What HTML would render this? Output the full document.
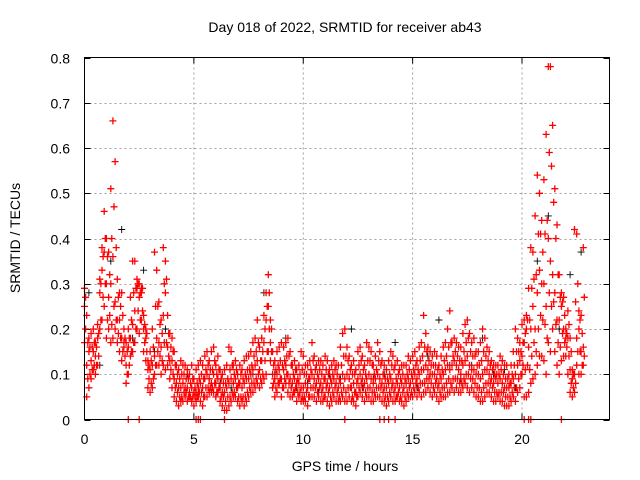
<!DOCTYPE html>
<html><head><meta charset="utf-8"><style>
html,body{margin:0;padding:0;background:#fff;}
svg{display:block;font-family:"Liberation Sans",sans-serif;}
</style></head><body>
<svg id="chart" width="640" height="480" viewBox="0 0 640 480" xmlns="http://www.w3.org/2000/svg">
<rect x="0" y="0" width="640" height="480" fill="#fff"/>
<text x="345" y="32" font-size="14" text-anchor="middle" fill="#000">Day 018 of 2022, SRMTID for receiver ab43</text>
<text transform="translate(20,238) rotate(-90)" font-size="14" text-anchor="middle" fill="#000">SRMTID / TECUs</text>
<text x="345" y="471" font-size="14" text-anchor="middle" fill="#000">GPS time / hours</text>
<g id="grid"></g>
<g id="ticks"></g>
<g id="marks"></g>
<rect x="84.5" y="57.5" width="525" height="362" fill="none" stroke="#000" stroke-width="1"/>
</svg>
<script>
const xTicks=[0,5,10,15,20];
const yTicks=[0,0.1,0.2,0.3,0.4,0.5,0.6,0.7,0.8];
const yTickLabels=["0","0.1","0.2","0.3","0.4","0.5","0.6","0.7","0.8"];
const step=0.1;
const redLow=[.17,.05,.07,.09,.11,.10,.12,.20,.22,.25,.18,.20,.17,.18,.20,.17,.15,.13,.17,.08,.10,.14,.15,.17,.20,.19,.22,.15,.13,.07,.06,.07,.10,.12,.12,.10,.12,.11,.12,.09,.07,.05,.04,.03,.04,.04,.05,.04,.05,.04,.03,.04,.05,.04,.03,.05,.05,.06,.06,.06,.05,.06,.04,.03,.02,.02,.03,.04,.05,.05,.04,.03,.04,.03,.04,.05,.06,.06,.07,.08,.07,.08,.09,.10,.15,.13,.07,.05,.06,.08,.05,.07,.08,.06,.05,.05,.06,.04,.05,.04,.04,.04,.03,.05,.05,.05,.04,.05,.04,.04,.05,.04,.03,.04,.05,.04,.04,.04,.05,.04,.04,.05,.04,.04,.03,.05,.06,.05,.04,.05,.05,.04,.04,.05,.05,.05,.04,.04,.03,.04,.05,.04,.04,.05,.04,.04,.03,.04,.05,.05,.05,.06,.05,.06,.05,.06,.06,.07,.06,.05,.06,.05,.04,.05,.05,.05,.06,.06,.07,.06,.07,.06,.06,.07,.08,.07,.06,.07,.06,.05,.05,.04,.04,.05,.06,.06,.05,.04,.04,.05,.04,.04,.03,.03,.03,.04,.05,.04,.06,.07,.10,.05,.05,.06,.08,.09,.10,.12,.14,.14,.13,.10,.17,.15,.20,.15,.12,.10,.13,.14,.14,.10,.06,.05,.06,.12,.10,.10,.12];
const redQ1=[.20,.09,.10,.11,.12,.12,.14,.22,.27,.30,.22,.23,.21,.25,.22,.19,.18,.15,.14,.10,.12,.15,.17,.20,.24,.22,.24,.17,.15,.09,.08,.09,.12,.15,.14,.13,.17,.17,.14,.11,.10,.07,.06,.05,.05,.06,.06,.05,.05,.05,.05,.05,.06,.06,.05,.07,.07,.07,.07,.08,.06,.07,.05,.05,.04,.05,.05,.06,.06,.07,.05,.05,.05,.05,.06,.07,.08,.08,.09,.10,.09,.10,.13,.15,.20,.15,.08,.07,.08,.09,.07,.09,.10,.08,.07,.06,.07,.06,.06,.05,.05,.06,.05,.07,.07,.07,.06,.07,.06,.05,.07,.06,.05,.06,.07,.06,.05,.06,.07,.06,.07,.07,.05,.06,.05,.07,.08,.07,.06,.07,.07,.06,.06,.07,.07,.07,.06,.05,.05,.06,.07,.06,.05,.06,.05,.06,.05,.06,.07,.06,.07,.08,.07,.08,.08,.08,.09,.09,.08,.07,.08,.07,.06,.07,.07,.08,.09,.08,.09,.09,.09,.08,.08,.09,.10,.10,.09,.09,.08,.07,.07,.06,.07,.08,.08,.08,.07,.06,.06,.06,.06,.06,.05,.05,.05,.06,.07,.07,.09,.10,.12,.11,.12,.11,.14,.17,.15,.20,.23,.22,.21,.18,.28,.25,.26,.21,.17,.16,.19,.17,.16,.14,.08,.07,.08,.15,.15,.12,.14];
const redMid=[.25,.12,.15,.13,.15,.14,.18,.28,.33,.37,.30,.27,.30,.36,.26,.22,.22,.18,.16,.12,.16,.18,.21,.24,.29,.27,.28,.20,.18,.11,.11,.12,.14,.18,.17,.16,.23,.28,.16,.13,.13,.09,.08,.07,.07,.08,.07,.07,.06,.07,.06,.06,.07,.08,.07,.09,.10,.09,.08,.10,.08,.09,.07,.06,.06,.07,.08,.09,.08,.09,.07,.08,.07,.08,.09,.09,.10,.11,.12,.13,.11,.13,.17,.22,.25,.17,.10,.09,.10,.11,.09,.11,.12,.10,.09,.08,.09,.08,.08,.07,.07,.08,.07,.09,.10,.09,.08,.09,.08,.07,.09,.08,.07,.08,.09,.08,.07,.08,.10,.09,.10,.09,.07,.08,.06,.09,.10,.09,.08,.09,.10,.09,.08,.09,.10,.09,.08,.07,.07,.08,.09,.08,.07,.08,.07,.08,.07,.08,.09,.08,.09,.10,.09,.10,.11,.11,.12,.11,.10,.10,.10,.09,.08,.09,.10,.11,.12,.11,.12,.13,.12,.11,.10,.12,.13,.14,.12,.11,.11,.10,.10,.09,.10,.11,.11,.10,.09,.08,.09,.08,.09,.08,.07,.07,.07,.08,.09,.10,.12,.13,.14,.17,.20,.16,.20,.25,.20,.28,.33,.30,.30,.25,.40,.35,.32,.28,.22,.22,.25,.20,.18,.18,.11,.09,.10,.18,.20,.15,.16];
const redQ3=[.27,.17,.16,.16,.17,.16,.19,.30,.36,.40,.36,.32,.40,.47,.38,.27,.25,.23,.18,.15,.18,.22,.28,.29,.30,.28,.29,.21,.19,.12,.13,.16,.25,.25,.21,.19,.30,.31,.19,.16,.15,.12,.10,.09,.10,.10,.09,.09,.08,.09,.07,.08,.09,.10,.09,.11,.12,.11,.11,.13,.10,.11,.09,.08,.08,.09,.11,.12,.10,.11,.08,.10,.09,.10,.11,.11,.12,.14,.15,.17,.13,.15,.20,.25,.28,.20,.12,.11,.12,.13,.12,.13,.14,.14,.12,.10,.11,.09,.10,.11,.10,.10,.09,.11,.13,.11,.10,.11,.10,.09,.11,.10,.09,.10,.11,.10,.09,.12,.14,.14,.13,.11,.10,.10,.08,.12,.13,.11,.10,.13,.13,.12,.10,.11,.13,.12,.10,.09,.09,.10,.12,.11,.09,.10,.09,.10,.09,.10,.11,.10,.11,.12,.11,.13,.14,.16,.15,.13,.12,.12,.12,.11,.10,.11,.13,.14,.16,.17,.14,.15,.14,.13,.13,.15,.17,.18,.15,.14,.14,.12,.12,.13,.15,.14,.13,.12,.11,.10,.10,.10,.11,.10,.09,.09,.08,.10,.12,.15,.15,.15,.17,.19,.22,.22,.29,.31,.32,.41,.41,.37,.41,.44,.59,.56,.48,.40,.32,.27,.26,.23,.19,.21,.15,.10,.26,.30,.22,.19,.27];
const redHigh=[.29,.23,.18,.19,.20,.17,.21,.31,.38,.46,.40,.37,.51,.66,.57,.31,.28,.28,.20,.17,.20,.27,.35,.35,.31,.30,.29,.23,.20,.13,.15,.20,.37,.33,.26,.22,.38,.35,.23,.19,.18,.15,.12,.11,.13,.12,.12,.11,.10,.12,.09,.11,.12,.13,.12,.14,.15,.13,.15,.16,.12,.14,.11,.10,.11,.12,.16,.15,.12,.13,.10,.12,.11,.13,.14,.14,.15,.17,.18,.22,.16,.18,.23,.28,.32,.22,.15,.13,.15,.16,.17,.16,.17,.18,.15,.12,.13,.11,.12,.15,.14,.12,.12,.13,.17,.14,.12,.13,.13,.12,.14,.13,.11,.12,.13,.12,.12,.16,.19,.20,.16,.14,.12,.13,.11,.15,.16,.14,.12,.17,.16,.15,.12,.14,.17,.15,.13,.12,.11,.13,.15,.14,.12,.13,.11,.12,.12,.12,.14,.13,.14,.15,.13,.16,.17,.23,.19,.16,.15,.14,.15,.14,.12,.14,.16,.17,.20,.24,.17,.18,.17,.16,.16,.19,.21,.22,.19,.17,.18,.15,.15,.17,.20,.18,.16,.15,.13,.12,.12,.12,.14,.13,.12,.12,.10,.12,.15,.20,.18,.17,.21,.22,.23,.29,.38,.37,.45,.54,.50,.44,.53,.63,.78,.78,.65,.51,.43,.32,.28,.27,.20,.24,.18,.11,.42,.41,.24,.23,.38];
const blackStep=0.5;
const blackVals=[.28,.12,.35,.42,.18,.33,.15,.20,.08,.10,.06,.09,.08,.07,.07,.10,.28,.10,.18,.07,.08,.06,.10,.09,.20,.07,.09,.10,.17,.08,.07,.14,.22,.12,.09,.12,.18,.10,.11,.07,.05,.35,.45,.20,.32,.37];
const zeroTimes=[2.0,2.5,5.1,5.2,5.3,6.4,11.9,13.5,13.7,13.9,14.2,20.1,20.3,20.4,21.8];

const X0=84.5,X1=609.5,Y0=419.5,Y1=57.5,XMAX=24,YMAX=0.8;
function xs(v){return X0+(v/XMAX)*(X1-X0);}
function ys(v){return Y0-(v/YMAX)*(Y0-Y1);}
const NS="http://www.w3.org/2000/svg";
const grid=document.getElementById('grid'),ticks=document.getElementById('ticks'),marks=document.getElementById('marks');
function ln(p,x1,y1,x2,y2,st,dash){const l=document.createElementNS(NS,'line');l.setAttribute('x1',x1);l.setAttribute('y1',y1);l.setAttribute('x2',x2);l.setAttribute('y2',y2);l.setAttribute('stroke',st);if(dash)l.setAttribute('stroke-dasharray',dash);p.appendChild(l);return l;}
yTicks.forEach((v,i)=>{const y=Math.round(ys(v))+0.5;
 if(v>0&&v<YMAX){const g=ln(grid,X0,y,X1,y,'#a0a0a0','2,3');
 
 }
 ln(ticks,X0,y,X0+6,y,'#000');ln(ticks,X1-6,y,X1,y,'#000');
 const t=document.createElementNS(NS,'text');t.setAttribute('x',70);t.setAttribute('y',y+5);t.setAttribute('font-size','14');t.setAttribute('text-anchor','end');t.textContent=yTickLabels[i];
 
 
 ticks.appendChild(t);});
xTicks.forEach(v=>{const x=xs(v);
 if(v>0){const g=ln(grid,x,Y0,x,Y1,'#a0a0a0','2,3');
 
 }
 ln(ticks,x,Y0,x,Y0-6,'#000');ln(ticks,x,Y1,x,Y1+6,'#000');
 const t=document.createElementNS(NS,'text');t.setAttribute('x',x);t.setAttribute('y',444);t.setAttribute('font-size','14');t.setAttribute('text-anchor','middle');t.textContent=String(v);
 
 
 ticks.appendChild(t);});
let d={red:'',black:''};
function plus(key,t,v){const x=xs(t),y=ys(v);d[key]+=`M${(x-3.5).toFixed(1)} ${y.toFixed(1)}h7M${x.toFixed(1)} ${(y-3.5).toFixed(1)}v7`;}
blackVals.forEach((v,i)=>plus('black',i*blackStep+0.2,v));
[redLow,redMid,redHigh].forEach(arr=>arr.forEach((v,i)=>plus('red',i*step,v)));
[redQ1,redQ3].forEach(arr=>arr.forEach((v,i)=>plus('red',i*step+0.05,v)));
zeroTimes.forEach(t=>plus('red',t,0));
const pb=document.createElementNS(NS,'path');pb.setAttribute('d',d.black);pb.setAttribute('stroke','#000');pb.setAttribute('fill','none');pb.setAttribute('stroke-width','0.9');


marks.appendChild(pb);
const pr=document.createElementNS(NS,'path');pr.setAttribute('d',d.red);pr.setAttribute('stroke','#ff0000');pr.setAttribute('fill','none');pr.setAttribute('stroke-width','1.3');


marks.appendChild(pr);
</script>
</body></html>
